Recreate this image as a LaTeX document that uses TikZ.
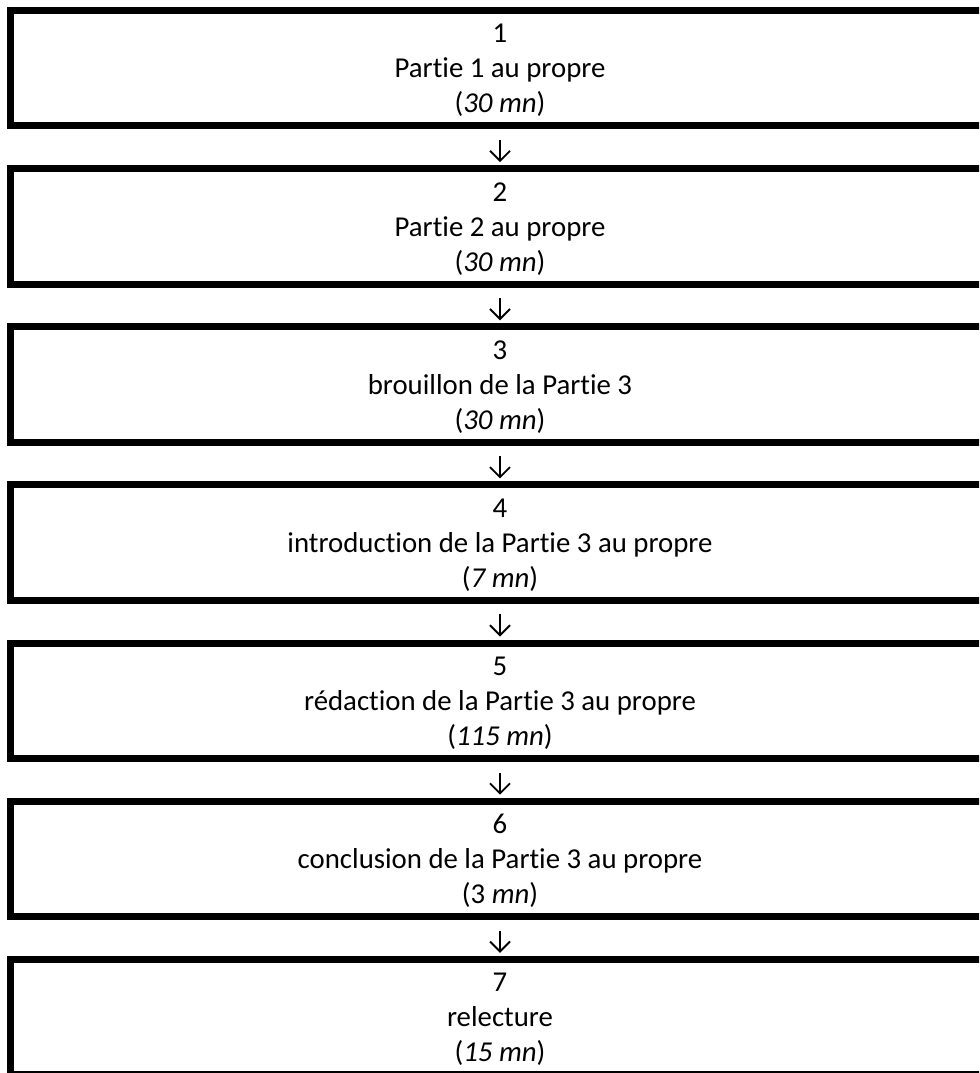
\documentclass[tikz,border=0pt]{standalone}
\usepackage{fontspec}
\setmainfont{Carlito}[Ligatures=NoCommon]
\usetikzlibrary{arrows.meta,positioning}

\begin{document}
\begin{tikzpicture}[
  stepbox/.style={draw, line width=5.25pt, minimum width=734.6pt, minimum height=86.6pt,
    inner sep=0pt, outer sep=0pt, align=center, text height=67.1pt, text depth=0pt,
    font=\fontsize{21.6pt}{26.25pt}\selectfont},
  arr/.style={-{Straight Barb[length=7.5pt, width=15pt]}, line width=1.4pt,
    shorten <=10.5pt, shorten >=4.9pt},
  node distance=32pt
]
\useasboundingbox (0,0) rectangle (734.25pt,-804.75pt);
\clip (0,0) rectangle (734.25pt,-804.75pt);
% Steps
\node[stepbox] (s1) at (375pt,-51.2pt) {1\\Partie 1 au propre\\(\textit{30 mn})};
\node[stepbox, below=of s1] (s2) {2\\Partie 2 au propre\\(\textit{30 mn})};
\node[stepbox, below=of s2] (s3) {3\\brouillon de la Partie 3\\(\textit{30 mn})};
\node[stepbox, below=of s3] (s4) {4\\introduction de la Partie 3 au propre\\(\textit{7 mn})};
\node[stepbox, below=of s4] (s5) {5\\rédaction de la Partie 3 au propre\\(\textit{115 mn})};
\node[stepbox, below=of s5] (s6) {6\\conclusion de la Partie 3 au propre\\(3 \textit{mn})};
\node[stepbox, below=of s6] (s7) {7\\relecture\\(\textit{15 mn})};
% Arrows
\draw[arr] (s1) -- (s2);
\draw[arr] (s2) -- (s3);
\draw[arr] (s3) -- (s4);
\draw[arr] (s4) -- (s5);
\draw[arr] (s5) -- (s6);
\draw[arr] (s6) -- (s7);
\end{tikzpicture}
\end{document}
